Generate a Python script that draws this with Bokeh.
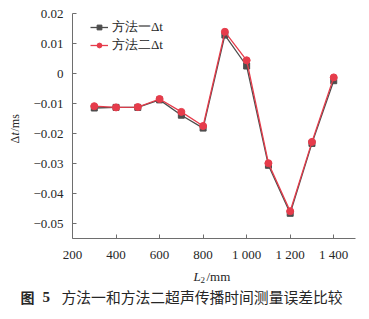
import math
from bokeh.plotting import figure
from bokeh.models import (ColumnDataSource, FixedTicker, CustomJSTickFormatter,
                          Label, Range1d)
from bokeh.embed import file_html
from bokeh.resources import INLINE

# data
L2 = [300, 400, 500, 600, 700, 800, 900, 1000, 1100, 1200, 1300, 1400]
dt_method1 = [-0.0115, -0.0113, -0.0113, -0.0088, -0.0139, -0.0182,
              0.0128, 0.0025, -0.0306, -0.0466, -0.0233, -0.0024]
dt_method2 = [-0.0109, -0.0113, -0.0112, -0.0085, -0.0128, -0.0175,
              0.0139, 0.0044, -0.0299, -0.0459, -0.0228, -0.0013]
x_ticks = [200, 400, 600, 800, 1000, 1200, 1400]
y_ticks = [-0.05, -0.04, -0.03, -0.02, -0.01, 0.0, 0.01, 0.02]
x_axis_span = (200, 1500)
y_axis_span = (-0.055, 0.02)
series_names = ["方法一Δt", "方法二Δt"]
caption = "方法一和方法二超声传播时间测量误差比较"

W, H = 369, 319
# axis box in canvas pixels (left, right, top, bottom)
BL, BR, BT, BB = 72, 355, 13, 238

SERIF = "Liberation Serif"
GRAY = "#4d4d4d"
RED = "#e63c4b"
AXC = "#6e6e6e"
TXT = "#262626"

# ranges extended so that the frame covers the whole canvas
xs = (x_axis_span[1] - x_axis_span[0]) / (BR - BL)
ys = (y_axis_span[1] - y_axis_span[0]) / (BB - BT)
x_range = Range1d(x_axis_span[0] - BL * xs, x_axis_span[1] + (W - BR) * xs)
y_range = Range1d(y_axis_span[0] - (H - BB) * ys, y_axis_span[1] + BT * ys)

p = figure(width=W, height=H, output_backend="svg", toolbar_location=None,
           x_range=x_range, y_range=y_range,
           min_border_left=0, min_border_right=0, min_border_top=0,
           min_border_bottom=0)
p.background_fill_color = "white"
p.border_fill_color = "white"
p.outline_line_color = None
p.grid.visible = False

src = ColumnDataSource(dict(x=L2, y1=dt_method1, y2=dt_method2))

p.line("x", "y1", source=src, color=GRAY, line_width=1.3, legend_label=series_names[0])
p.scatter("x", "y1", source=src, marker="square", size=6, color=GRAY,
          legend_label=series_names[0])
p.line("x", "y2", source=src, color=RED, line_width=1.3, legend_label=series_names[1])
p.scatter("x", "y2", source=src, marker="circle", size=7, color=RED,
          legend_label=series_names[1])

for ax in (p.xaxis[0], p.yaxis[0]):
    ax.axis_line_color = AXC
    ax.major_tick_line_color = AXC
    ax.major_tick_in = 4
    ax.major_tick_out = 0
    ax.minor_tick_in = 0
    ax.minor_tick_out = 0
    ax.major_label_text_font = "Liberation Serif"
    ax.major_label_text_font_size = "13px"
    ax.major_label_text_color = TXT

p.xaxis.fixed_location = y_axis_span[0]
p.yaxis.fixed_location = x_axis_span[0]
p.xaxis.bounds = x_axis_span
p.yaxis.bounds = y_axis_span
p.xaxis.ticker = FixedTicker(ticks=x_ticks)
p.yaxis.ticker = FixedTicker(ticks=y_ticks)
p.xaxis.formatter = CustomJSTickFormatter(code="""
const s = Math.round(tick).toString();
return s.length > 3 ? s.slice(0, s.length - 3) + ' ' + s.slice(-3) : s;
""")
p.yaxis.formatter = CustomJSTickFormatter(code="""
if (Math.abs(tick) < 1e-9) return '0';
return (tick < 0 ? '\\u2212' : '') + Math.abs(tick).toFixed(2);
""")
p.xaxis.major_label_standoff = 8
p.yaxis.major_label_standoff = 9

leg = p.legend[0]
leg.location = (90, 265)
leg.padding = 0
leg.margin = 0
leg.spacing = 0
leg.border_line_color = None
leg.background_fill_alpha = 0
leg.glyph_width = 18
leg.glyph_height = 12
leg.label_height = 12
leg.label_standoff = 4
leg.label_text_font = SERIF
leg.label_text_font_size = "13px"
leg.label_text_color = TXT

# y axis label: Δt/ms (rotated)
for txt, yy, style in [("Δ", 176, "normal"), ("t", 184, "italic"), ("/ms", 188, "normal")]:
    p.add_layout(Label(x=14, y=yy, x_units="screen", y_units="screen", text=txt,
                       angle=math.pi / 2, text_align="left", text_baseline="middle",
                       text_font="Liberation Serif", text_font_style=style,
                       text_font_size="12px", text_color=TXT))

# x axis label: L2/mm
p.add_layout(Label(x=193, y=43, x_units="screen", y_units="screen", text="L",
                   text_font="Liberation Serif", text_font_style="italic",
                   text_font_size="13px", text_baseline="alphabetic", text_color=TXT))
p.add_layout(Label(x=200, y=40, x_units="screen", y_units="screen", text="2",
                   text_font="Liberation Serif", text_font_size="9px",
                   text_baseline="alphabetic", text_color=TXT))
p.add_layout(Label(x=206, y=43, x_units="screen", y_units="screen", text="/mm",
                   text_font="Liberation Serif", text_font_size="13px",
                   text_baseline="alphabetic", text_color=TXT))

# caption
p.add_layout(Label(x=20, y=23, x_units="screen", y_units="screen", text="图",
                   text_font="Noto Sans CJK SC", text_font_style="bold",
                   text_font_size="14px", text_baseline="middle", text_color=TXT))
p.add_layout(Label(x=42, y=23, x_units="screen", y_units="screen", text="5",
                   text_font="Liberation Serif", text_font_style="bold",
                   text_font_size="15px", text_baseline="middle", text_color=TXT))
p.add_layout(Label(x=61, y=23, x_units="screen", y_units="screen", text=caption,
                   text_font="Noto Sans CJK SC", text_font_size="14.8px",
                   text_baseline="middle", text_color=TXT))

open("out.html", "w").write(file_html(p, INLINE))
